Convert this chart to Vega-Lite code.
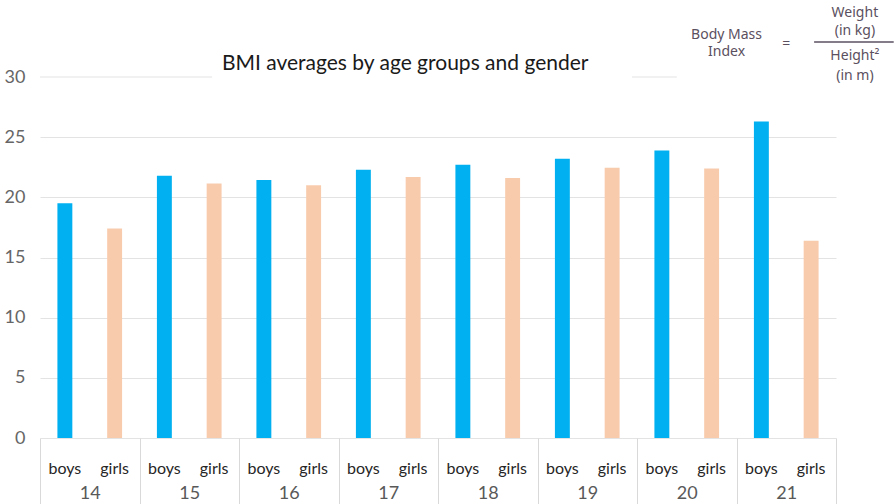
{
  "$schema": "https://vega.github.io/schema/vega-lite/v6.json",
  "width": 796,
  "height": 361,
  "autosize": "none",
  "padding": {"left": 40, "top": 77, "right": 59, "bottom": 66},
  "background": "white",
  "config": {"view": {"stroke": null}},
  "data": {"values": [
    {"age": "14", "gender": "boys", "bmi": 19.5},
    {"age": "14", "gender": "girls", "bmi": 17.4},
    {"age": "15", "gender": "boys", "bmi": 21.8},
    {"age": "15", "gender": "girls", "bmi": 21.15},
    {"age": "16", "gender": "boys", "bmi": 21.45},
    {"age": "16", "gender": "girls", "bmi": 21.0},
    {"age": "17", "gender": "boys", "bmi": 22.3},
    {"age": "17", "gender": "girls", "bmi": 21.7},
    {"age": "18", "gender": "boys", "bmi": 22.7},
    {"age": "18", "gender": "girls", "bmi": 21.6},
    {"age": "19", "gender": "boys", "bmi": 23.2},
    {"age": "19", "gender": "girls", "bmi": 22.45},
    {"age": "20", "gender": "boys", "bmi": 23.9},
    {"age": "20", "gender": "girls", "bmi": 22.4},
    {"age": "21", "gender": "boys", "bmi": 26.3},
    {"age": "21", "gender": "girls", "bmi": 16.4}
  ]},
  "layer": [
    {
      "mark": {"type": "bar"},
      "encoding": {
        "x": {"field": "age", "type": "nominal", "sort": null,
          "scale": {"paddingInner": 0, "paddingOuter": 0},
          "axis": {"orient": "bottom", "title": null, "domain": false, "ticks": true, "tickBand": "extent", "tickSize": 66, "tickColor": "#d9d9d9", "tickWidth": 1, "labelPadding": -20, "labelAngle": 0, "labelFont": "Lato", "labelFontSize": 18, "labelColor": "#595959", "labelBaseline": "top", "grid": false}},
        "xOffset": {"field": "gender", "type": "nominal", "sort": ["boys", "girls"], "scale": {"paddingInner": 0.7, "paddingOuter": 0.35}},
        "y": {"field": "bmi", "type": "quantitative",
          "scale": {"domain": [0, 30], "nice": false},
          "axis": {"title": null, "values": [0, 5, 10, 15, 20, 25, 30], "domain": false, "ticks": false, "labelPadding": 15, "labelFont": "Lato", "labelFontSize": 18, "labelColor": "#666666", "gridColor": "#e3e3e3", "gridWidth": 1,
            "gridOpacity": {"condition": {"test": "datum.value === 30", "value": 0}, "value": 1}}},
        "color": {"field": "gender", "type": "nominal", "scale": {"domain": ["boys", "girls"], "range": ["#00B0F0", "#F8CBAD"]}, "legend": null}
      }
    },
    {
      "mark": {"type": "text", "dy": 31, "baseline": "middle", "align": "center", "font": "Lato", "fontSize": 16, "color": "#262626"},
      "encoding": {
        "x": {"field": "age", "type": "nominal", "sort": null},
        "xOffset": {"field": "gender", "type": "nominal", "sort": ["boys", "girls"]},
        "y": {"datum": 0, "type": "quantitative"},
        "text": {"field": "gender"}
      }
    },
    {
      "data": {"values": [{}]},
      "mark": {"type": "rule", "color": "#e3e3e3", "strokeWidth": 1},
      "encoding": {
        "x": {"datum": "14", "type": "nominal", "bandPosition": 0},
        "x2": {"datum": "15", "bandPosition": 0.73},
        "y": {"datum": 30, "type": "quantitative"}
      }
    },
    {
      "data": {"values": [{}]},
      "mark": {"type": "rule", "color": "#e3e3e3", "strokeWidth": 1},
      "encoding": {
        "x": {"datum": "19", "type": "nominal", "bandPosition": 0.95},
        "x2": {"datum": "20", "bandPosition": 0.4},
        "y": {"datum": 30, "type": "quantitative"}
      }
    },
    {
      "data": {"values": [{}]},
      "mark": {"type": "text", "align": "center", "baseline": "alphabetic", "font": "Lato", "fontSize": 21, "color": "#1a1a1a"},
      "encoding": {
        "x": {"datum": "17", "type": "nominal", "bandPosition": 0.67},
        "y": {"datum": 30.6, "type": "quantitative"},
        "text": {"value": "BMI averages by age groups and gender"}
      }
    },
    {
      "data": {"values": [{}]},
      "mark": {"type": "rule", "color": "#5b5060", "strokeWidth": 1.5},
      "encoding": {
        "x": {"datum": "21", "type": "nominal", "bandPosition": 0.78},
        "x2": {"datum": "21", "bandPosition": 1.58},
        "y": {"datum": 32.9, "type": "quantitative"}
      }
    },
    {
      "data": {"values": [
        {"label": "Body Mass", "v": 33.5},
        {"label": "Index", "v": 32.08}
      ]},
      "mark": {"type": "text", "align": "center", "baseline": "middle", "font": "Noto Sans", "fontSize": 14, "color": "#5b5060"},
      "encoding": {
        "x": {"datum": "20", "type": "nominal", "bandPosition": 0.9},
        "y": {"field": "v", "type": "quantitative"},
        "text": {"field": "label"}
      }
    },
    {
      "data": {"values": [{}]},
      "mark": {"type": "text", "align": "center", "baseline": "middle", "font": "Noto Sans", "fontSize": 14, "color": "#5b5060"},
      "encoding": {
        "x": {"datum": "21", "type": "nominal", "bandPosition": 0.5},
        "y": {"datum": 32.74, "type": "quantitative"},
        "text": {"value": "="}
      }
    },
    {
      "data": {"values": [
        {"label": "Weight", "v": 35.3},
        {"label": "(in kg)", "v": 33.82},
        {"label": "Height²", "v": 31.72},
        {"label": "(in m)", "v": 30.1}
      ]},
      "mark": {"type": "text", "align": "center", "baseline": "middle", "font": "Noto Sans", "fontSize": 14, "color": "#5b5060"},
      "encoding": {
        "x": {"datum": "21", "type": "nominal", "bandPosition": 1.19},
        "y": {"field": "v", "type": "quantitative"},
        "text": {"field": "label"}
      }
    }
  ]
}
